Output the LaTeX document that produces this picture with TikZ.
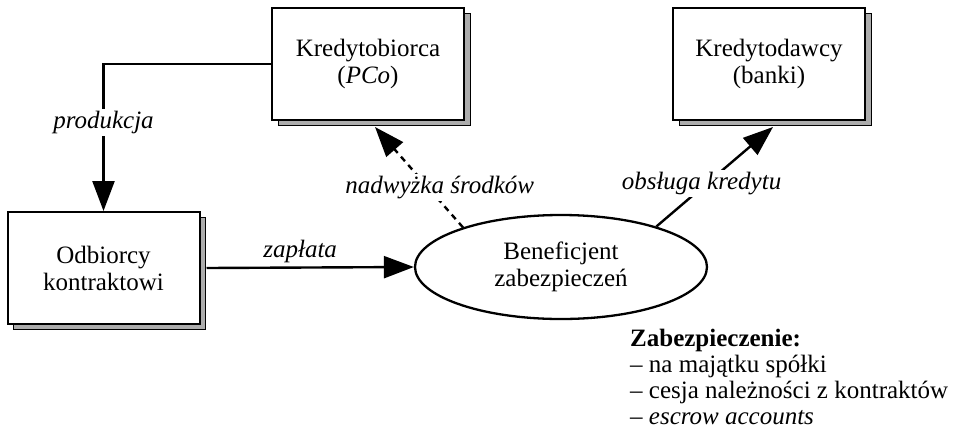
\documentclass[tikz,border=0pt]{standalone}
\usepackage{fontspec}
\setmainfont{Liberation Serif}
\usetikzlibrary{arrows.meta,calc,shapes.geometric,shadows}

\begin{document}
\begin{tikzpicture}[x=1pt,y=-1pt,
  party/.style={draw, line width=2pt, fill=white, minimum width=192pt, minimum height=112pt,
    inner sep=0pt, align=center, font=\fontsize{25}{27}\selectfont,
    copy shadow={shadow xshift=6pt, shadow yshift=-5pt, fill=gray!65, draw=black, line width=1pt}},
  holder/.style={draw, ellipse, line width=2.3pt, fill=white, minimum width=292pt, minimum height=104pt,
    inner sep=0pt, align=center, font=\fontsize{25}{27}\selectfont},
  flow/.style={line width=2.4pt, -{Triangle[length=30pt,width=22pt]}},
  dotflow/.style={flow, dash pattern=on 6pt off 5pt},
  tag/.style={fill=white, inner sep=2pt, font=\fontsize{25}{27}\selectfont\itshape},
  plaintag/.style={inner sep=3pt, font=\fontsize{25}{27}\selectfont\itshape}
]
\useasboundingbox (0,0) rectangle (958,437);

% parties
\node[party] (borrower) at (368,64) {Kredytobiorca\\(\textit{PCo})};
\node[party] (lenders)  at (769,64) {Kredytodawcy\\(banki)};
\node[party] (buyers)   at (103.5,268) {Odbiorcy\\kontraktowi};

% security trustee
\node[holder] (trustee) at (561,267) {Beneficjent\\zabezpieczeń};

% flows
\draw[flow] (borrower.west) -| node[tag, pos=0.70] {produkcja} (buyers.north);
\draw[flow] ([xshift=6pt]buyers.east) -- node[plaintag, above, xshift=-10pt] {zapłata} (trustee.west);
\draw[dotflow] (trustee.158) -- node[tag, pos=0.40, xshift=12pt] {nadwyżka środków} ($(borrower.south)+(7,6)$);
\draw[flow] (trustee.23) -- node[tag, pos=0.43, xshift=-5pt] {obsługa kredytu} ($(lenders.south)+(4,6)$);

% collateral list
\node[anchor=north west, inner sep=0pt, align=left, font=\fontsize{25}{26}\selectfont] (security) at (630,329)
  {\textbf{Zabezpieczenie:}\\– na majątku spółki\\– cesja należności z kontraktów\\– \textit{escrow accounts}};
\end{tikzpicture}
\end{document}
